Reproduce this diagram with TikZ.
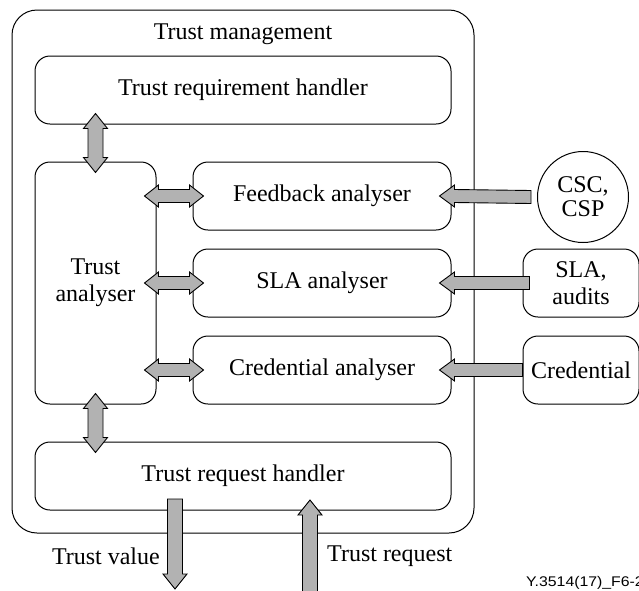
\documentclass[tikz,border=0pt]{standalone}
\usepackage{fontspec}
\setmainfont{Liberation Serif}
\newfontfamily\labelsans{Liberation Sans}
\usetikzlibrary{calc}
\definecolor{arrowgrey}{RGB}{178,178,178}
% block arrows (connectors) between named coordinates
\newcommand\arrowLeft[2]{\draw[blk] ($(#1)+(0,-6.5)$) -- ($(#2)+(15,-6.5)$) -- ($(#2)+(15,-11)$) -- (#2) -- ($(#2)+(15,11)$) -- ($(#2)+(15,6.5)$) -- ($(#1)+(0,6.5)$) -- cycle;}
\newcommand\dblH[2]{\draw[blk] (#1) -- ($(#1)+(14,-11)$) -- ($(#1)+(14,-6.5)$) -- ($(#2)+(-14,-6.5)$) -- ($(#2)+(-14,-11)$) -- (#2) -- ($(#2)+(-14,11)$) -- ($(#2)+(-14,6.5)$) -- ($(#1)+(14,6.5)$) -- ($(#1)+(14,11)$) -- cycle;}
\newcommand\dblV[2]{\draw[blk] (#1) -- ($(#1)+(12,15)$) -- ($(#1)+(7.5,15)$) -- ($(#2)+(7.5,-15)$) -- ($(#2)+(12,-15)$) -- (#2) -- ($(#2)+(-12,-15)$) -- ($(#2)+(-7.5,-15)$) -- ($(#1)+(-7.5,15)$) -- ($(#1)+(-12,15)$) -- cycle;}
\newcommand\arrowDown[2]{\draw[blk] ($(#1)+(-7.5,0)$) -- ($(#1)+(7.5,0)$) -- ($(#2)+(7.5,-15)$) -- ($(#2)+(12,-15)$) -- (#2) -- ($(#2)+(-12,-15)$) -- ($(#2)+(-7.5,-15)$) -- cycle;}
\newcommand\arrowUp[2]{\draw[blk] ($(#1)+(-7.5,0)$) -- ($(#1)+(7.5,0)$) -- ($(#2)+(7.5,15)$) -- ($(#2)+(12,15)$) -- (#2) -- ($(#2)+(-12,15)$) -- ($(#2)+(-7.5,15)$) -- cycle;}
\begin{document}
\begin{tikzpicture}[x=1pt,y=-1pt,
  box/.style={draw, line width=1pt, rounded corners=15pt, align=center, inner sep=0pt},
  outerbox/.style={draw, line width=1pt, rounded corners=25pt, inner sep=0pt},
  txt/.style={inner sep=0pt},
  blk/.style={draw, line width=0.9pt, fill=arrowgrey, line join=miter},
  font=\fontsize{24}{27}\selectfont]
\useasboundingbox (0,0) rectangle (639,590);
\fill[white] (0,0) rectangle (639,590);

% containers
\node[outerbox, minimum width=462pt, minimum height=523pt] (tm) at (243,271.5) {};
\node[txt, anchor=base] (tmlabel) at (243,39) {Trust management};

\node[box, minimum width=416pt, minimum height=68pt] (trh) at (243,90) {Trust requirement handler};
\node[box, minimum width=121pt, minimum height=242pt, font=\fontsize{24}{27}\selectfont] (ta) at (95.5,283) {Trust\\analyser};
\node[box, minimum width=258pt, minimum height=68pt] (fa) at (322,196) {Feedback analyser};
\node[box, minimum width=258pt, minimum height=68pt] (sa) at (322,283) {SLA analyser};
\node[box, minimum width=258pt, minimum height=68pt] (ca) at (322,370) {Credential analyser};
\node[box, minimum width=416pt, minimum height=68pt] (trq) at (243,476) {Trust request handler};

% external sources
\node[draw, line width=1pt, circle, minimum size=91pt, inner sep=0pt, align=center, font=\fontsize{24}{24}\selectfont] (csc) at (583,197) {CSC,\\CSP};
\node[box, minimum width=116pt, minimum height=68pt, font=\fontsize{24}{27}\selectfont] (sla) at (581,283) {SLA,\\audits};
\node[box, minimum width=116pt, minimum height=68pt] (cred) at (581,370) {Credential};

% connector end points
\coordinate (fbTail) at ($(csc.west)+(-6,0)$);
\coordinate (fbTip) at ($(fa.east)+(-12,0)$);
\coordinate (slTail) at ($(sla.west)+(7,0)$);
\coordinate (slTip) at ($(sa.east)+(-12,0)$);
\coordinate (crTail) at (cred.west);
\coordinate (crTip) at ($(ca.east)+(-12,0)$);

\coordinate (d1a) at ($(fa.west -| ta.east)+(-12,0)$);
\coordinate (d1b) at ($(fa.west)+(11,0)$);
\coordinate (d2a) at ($(sa.west -| ta.east)+(-12,0)$);
\coordinate (d2b) at ($(sa.west)+(11,0)$);
\coordinate (d3a) at ($(ca.west -| ta.east)+(-12,0)$);
\coordinate (d3b) at ($(ca.west)+(11,0)$);

\coordinate (v1a) at ($(trh.south -| ta.north)+(0,-11)$);
\coordinate (v1b) at ($(ta.north)+(0,11)$);
\coordinate (v2a) at ($(ta.south)+(0,-11)$);
\coordinate (v2b) at ($(trq.north -| ta.south)+(0,11)$);

\coordinate (tvTail) at (175,499);
\coordinate (tvTip) at (175,589);
\coordinate (rqTail) at (310,592);
\coordinate (rqTip) at (310,500);

% connectors
\arrowLeft{fbTail}{fbTip}
\arrowLeft{slTail}{slTip}
\arrowLeft{crTail}{crTip}
\dblH{d1a}{d1b}
\dblH{d2a}{d2b}
\dblH{d3a}{d3b}
\dblV{v1a}{v1b}
\dblV{v2a}{v2b}
\arrowDown{tvTail}{tvTip}
\arrowUp{rqTail}{rqTip}

% labels
\node[txt, anchor=base east] (tvlabel) at (160,564) {Trust value};
\node[txt, anchor=base west] (rqlabel) at (327,561) {Trust request};
\begin{scope}
\clip (0,0) rectangle (639,590);
\node[txt, anchor=base west, font=\labelsans\fontsize{14}{16}\selectfont] (fig) at (526,586) {\scalebox{1.13}[1]{Y.3514(17)\_F6-2}};
\end{scope}
\end{tikzpicture}
\end{document}
